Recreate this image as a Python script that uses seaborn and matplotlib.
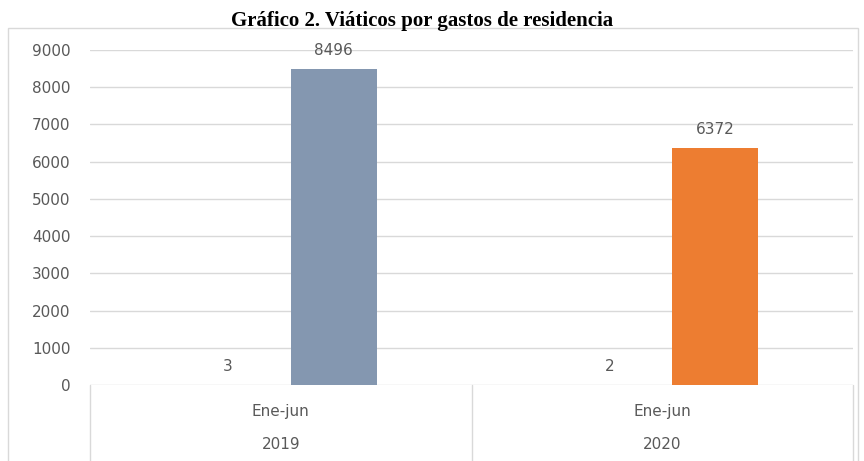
import matplotlib
matplotlib.use("Agg")
import matplotlib.pyplot as plt
import seaborn as sns
import pandas as pd
from matplotlib.patches import Rectangle
from matplotlib.lines import Line2D
import matplotlib.transforms as mtrans

# ---- data ----
years = ["2019", "2020"]
periods = ["Ene-jun", "Ene-jun"]
series_names = ["Casos", "Monto"]
casos = [3, 2]
monto = [8496, 6372]
yticks = [0, 1000, 2000, 3000, 4000, 5000, 6000, 7000, 8000, 9000]
title = "Gráfico 2. Viáticos por gastos de residencia"

bar_colors = ["#8497B0", "#ED7D31"]
text_color = "#595959"
grid_color = "#D9D9D9"

sns.set_theme(style="white")
plt.rcParams["font.family"] = ["Liberation Sans Narrow", "DejaVu Sans"]

df = pd.DataFrame({
    "grupo": years * 2,
    "serie": [series_names[0]] * 2 + [series_names[1]] * 2,
    "valor": casos + monto,
})

W, H = 864, 461
fig = plt.figure(figsize=(W / 100, H / 100), dpi=100)
ax = fig.add_axes([90 / W, (H - 385) / H, (853 - 90) / W, 335 / H])

sns.barplot(data=df, x="grupo", y="valor", hue="serie", order=years,
            hue_order=series_names, width=0.556, gap=0.19, ax=ax,
            legend=False, palette=["#A5A5A5", "#8497B0"])

# recolour the main series per category
main_container = ax.containers[1]
for patch, c in zip(main_container.patches, bar_colors):
    patch.set_facecolor(c)
    patch.set_edgecolor("none")
for patch in ax.containers[0].patches:
    patch.set_edgecolor("none")

for cont in ax.containers:
    ax.bar_label(cont, fmt="%d", padding=8, fontsize=11, color=text_color)

ax.set_ylim(0, 9000)
ax.set_xlim(-0.5, 1.5)
ax.set_yticks(yticks)
ax.set_yticklabels([str(v) for v in yticks], fontsize=11, color=text_color)
ax.tick_params(axis="y", length=0, pad=14)
ax.yaxis.grid(True, color=grid_color, linewidth=1)
ax.set_axisbelow(True)
for s in ax.spines.values():
    s.set_visible(False)
ax.set_xlabel("")
ax.set_ylabel("")

# multi-level category labels
ax.set_xticks(range(len(years)))
ax.set_xticklabels(periods, fontsize=11, color=text_color)
ax.tick_params(axis="x", length=0, pad=14)
trans = mtrans.blended_transform_factory(ax.transData, ax.transAxes)
for i, y in enumerate(years):
    ax.annotate(y, xy=(i, 0), xycoords=trans, xytext=(0, -59),
                textcoords="offset pixels", ha="center", va="center",
                fontsize=11, color=text_color)

# table lines below axis
for xv in [-0.5, 0.5, 1.5]:
    ax.add_line(Line2D([xv, xv], [0, -80 / 335], transform=trans,
                       color=grid_color, linewidth=1, clip_on=False))

# chart border
fig.add_artist(Rectangle((8 / W, -0.05), 850 / W, (H - 28) / H + 0.05,
                         transform=fig.transFigure, fill=False,
                         edgecolor=grid_color, linewidth=1))

fig.text(422 / W, 1 - 26 / H, title, ha="center", va="baseline",
         fontsize=15, fontweight="bold", color="black",
         family=["Liberation Serif", "DejaVu Serif"])

fig.savefig("out.png", dpi=100)
